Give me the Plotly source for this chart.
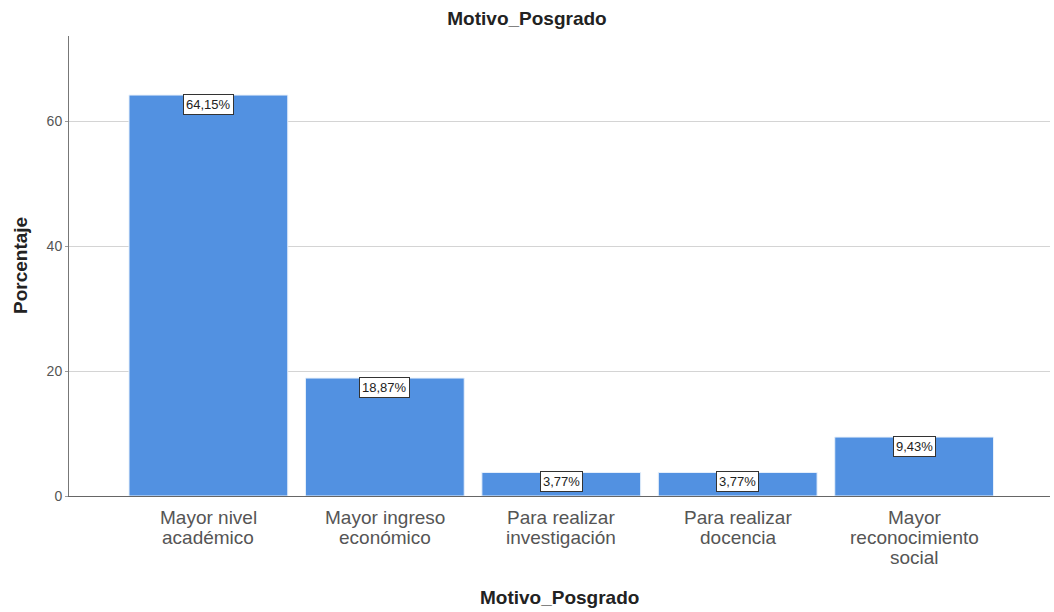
import plotly.graph_objects as go

categories = ["Mayor nivel<br>académico", "Mayor ingreso<br>económico", "Para realizar<br>investigación",
              "Para realizar<br>docencia", "Mayor<br>reconocimiento<br>social"]
values = [64.15, 18.87, 3.77, 3.77, 9.43]
labels = ["64,15%", "18,87%", "3,77%", "3,77%", "9,43%"]
y_ticks = [0, 20, 40, 60]

bar_color = "#5291E1"
font_family = "Liberation Sans, Arial, sans-serif"

fig = go.Figure()
fig.add_trace(go.Bar(
    x=list(range(len(categories))), y=values, width=0.9,
    marker=dict(color=bar_color, line=dict(color="#e8f1fb", width=1)),
    hoverinfo="skip",
))

# value labels in boxes at bar tops
for i, (v, t) in enumerate(zip(values, labels)):
    fig.add_annotation(
        x=i, y=v, text=t, showarrow=False, yanchor="top", yshift=1,
        font=dict(family=font_family, size=13, color="#222"),
        bgcolor="white", bordercolor="#333", borderwidth=1, borderpad=2,
    )

# category labels (tight line spacing)
for i, cat in enumerate(categories):
    for k, line in enumerate(cat.split("<br>")):
        fig.add_annotation(
            x=i, y=0, xref="x", yref="y", text=line, showarrow=False,
            xanchor="center", yanchor="middle", yshift=-(21 + 20 * k),
            font=dict(family=font_family, size=19, color="#555"),
        )

# axis titles
fig.add_annotation(
    xref="paper", yref="paper", x=0.5, y=0, yshift=-101, text="<b>Motivo_Posgrado</b>",
    showarrow=False, xanchor="center", yanchor="middle",
    font=dict(family=font_family, size=19, color="#222"),
)
fig.add_annotation(
    xref="paper", yref="paper", x=0, y=0.5, xshift=-49, text="<b>Porcentaje</b>",
    showarrow=False, xanchor="center", yanchor="middle", textangle=-90,
    font=dict(family=font_family, size=19, color="#222"),
)

fig.update_layout(
    width=1054, height=612,
    margin=dict(l=69, r=4, t=36, b=116, autoexpand=False),
    paper_bgcolor="white", plot_bgcolor="white",
    showlegend=False,
    title=dict(text="<b>Motivo_Posgrado</b>", x=0.5, xanchor="center", xref="container",
               y=1 - 18 / 612, yanchor="middle", yref="container",
               font=dict(family=font_family, size=19, color="#222")),
    font=dict(family=font_family),
    xaxis=dict(
        range=[-0.79, 4.77],
        tickmode="array", tickvals=list(range(len(categories))), ticktext=[""] * len(categories),
        showticklabels=False,
        showgrid=False, zeroline=False,
        showline=True, linecolor="#666", linewidth=1,
        ticks="", automargin=False,
    ),
    yaxis=dict(
        range=[0, 73.6],
        tickmode="array", tickvals=y_ticks,
        tickfont=dict(family=font_family, size=14, color="#555"),
        showgrid=True, gridcolor="#d4d4d4", gridwidth=1,
        zeroline=False,
        showline=True, linecolor="#777", linewidth=1,
        ticks="outside", ticklen=3, tickcolor="#999",
        automargin=False,
    ),
)

fig.write_html(
    "out.html",
    config={"responsive": False, "displayModeBar": False},
    post_script="document.body.style.margin='0';document.body.style.overflow='hidden';",
)
